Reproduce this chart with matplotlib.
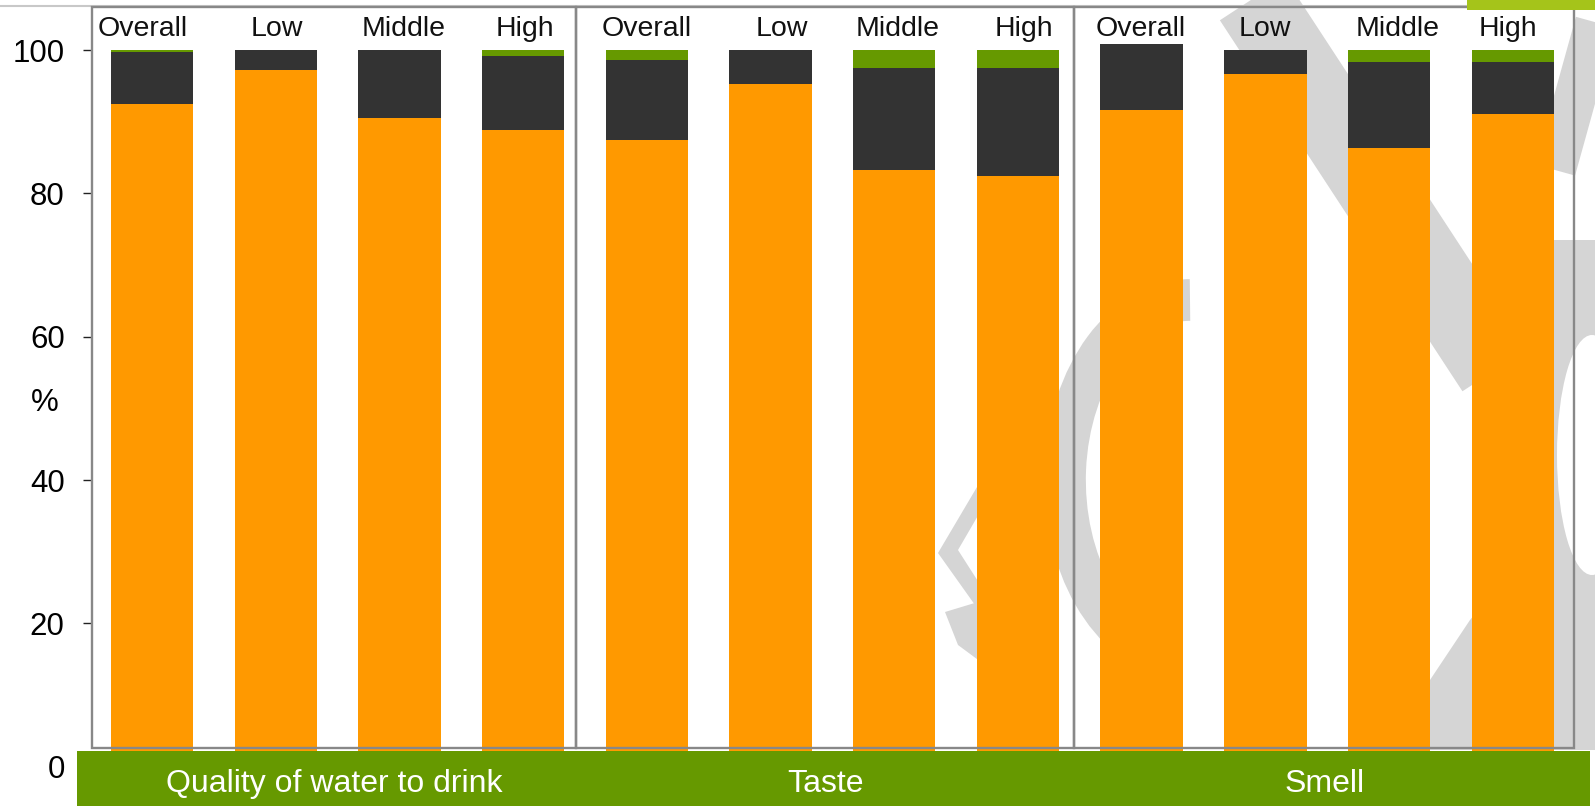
import matplotlib
matplotlib.use('Agg')
import matplotlib.pyplot as plt
from matplotlib.patches import Rectangle, Polygon, Arc, Ellipse
import numpy as np

plt.rcParams['font.family'] = ['Liberation Sans', 'DejaVu Sans']

groups = ['Quality of water to drink', 'Taste', 'Smell']
levels = ['Overall', 'Low', 'Middle', 'High']
orange_vals = [92.5, 97.2, 90.5, 88.8, 87.4, 95.3, 83.3, 82.4, 91.6, 96.7, 86.3, 91.1]
dark_vals = [7.2, 2.8, 9.5, 10.4, 11.2, 4.7, 14.2, 15.1, 9.2, 3.3, 12.0, 7.2]
green_vals = [0.3, 0.0, 0.0, 0.8, 1.4, 0.0, 2.5, 2.5, 0.0, 0.0, 1.7, 1.7]
yticks = [0, 20, 40, 60, 80, 100]

# small horizontal nudges of the level names over each bar
label_dx = [-0.078, 0.012, 0.037, 0.012, 0, 0.09, 0.029, 0.045, -0.008, 0, 0.07, -0.037]

ORANGE = '#ff9900'
DARK = '#333333'
GREEN = '#669900'
WM = '#d5d5d5'

W, H = 1595, 806
fig = plt.figure(figsize=(W / 100, H / 100), dpi=100)

# background watermark, drawn in pixel coordinates
bg = fig.add_axes([0, 0, 1, 1], zorder=0)
bg.set_xlim(0, W)
bg.set_ylim(H, 0)
bg.axis('off')
bg.plot([1240, 1495], [-20, 370], color=WM, lw=56, solid_capstyle='butt')
bg.plot([1605, 1555], [-10, 170], color=WM, lw=30, solid_capstyle='butt')
bg.add_patch(Arc((1190, 480), 250, 360, theta1=95, theta2=270, color=WM, lw=30))
bg.add_patch(Polygon([(1400, 750), (1430, 680), (1470, 620), (1515, 565), (1554, 520),
                      (1554, 240), (1595, 240), (1595, 750)], color=WM, lw=0))
bg.add_patch(Ellipse((1592, 455), 70, 240, color='white', lw=0))
bg.add_patch(Polygon([(990, 465), (938, 553), (975, 605), (990, 600), (958, 550), (990, 495)], color=WM, lw=0))
bg.add_patch(Polygon([(945, 612), (978, 602), (985, 665), (958, 645)], color=WM, lw=0))
bg.plot([0, 1470], [6, 6], color='#c8c8c8', lw=1.5)

ax = fig.add_axes([91.5 / W, 0, 1 - 91.5 / W, 1], zorder=1)
ax.patch.set_alpha(0)

x = np.arange(len(orange_vals))
orange = np.array(orange_vals)
dark = np.array(dark_vals)
green = np.array(green_vals)
ax.bar(x, orange, width=0.666, color=ORANGE, zorder=2)
ax.bar(x, dark, width=0.666, bottom=orange, color=DARK, zorder=2)
ax.bar(x, green, width=0.666, bottom=orange + dark, color=GREEN, zorder=2)

ax.set_xlim(-0.49, 11.665)
ax.set_ylim(-5.48, 106.98)
for s in ax.spines.values():
    s.set_visible(False)
ax.set_xticks([])
ax.set_yticks(yticks)
ax.tick_params(axis='y', length=6.8, width=1, pad=12.5, labelsize=22.5, color='#222222')
ax.set_ylabel('%', rotation=0, fontsize=22.5, ha='center', va='center')
ax.yaxis.set_label_coords(-0.0309, 0.5)

# group frames
edges = [-0.49, 3.427, 7.457, 11.495]
for i in range(3):
    ax.add_patch(Rectangle((edges[i], 2.65), edges[i + 1] - edges[i], 106.04 - 2.65,
                           fill=False, ec='#888888', lw=1.7, clip_on=False, zorder=3))

for i, xi in enumerate(x):
    ax.text(xi + label_dx[i], 101.9, levels[i % 4], ha='center', va='baseline',
            fontsize=20.5, color='#111111', zorder=3)

# green strip with group names
ax.add_patch(Rectangle((-0.607, -7), 11.624 + 0.607, 2.26 + 7, color=GREEN,
                       lw=0, clip_on=False, zorder=4))
for i, g in enumerate(groups):
    ax.text((edges[i] + edges[i + 1]) / 2, -3.5, g, ha='center', va='baseline',
            fontsize=23, color='white', zorder=5)

fg = fig.add_axes([0, 0, 1, 1], zorder=3)
fg.set_xlim(0, W)
fg.set_ylim(H, 0)
fg.axis('off')
fg.add_patch(Rectangle((1467, 0), W - 1467, 10, color='#a5c41a', lw=0))

fig.savefig('out.png', dpi=100)
